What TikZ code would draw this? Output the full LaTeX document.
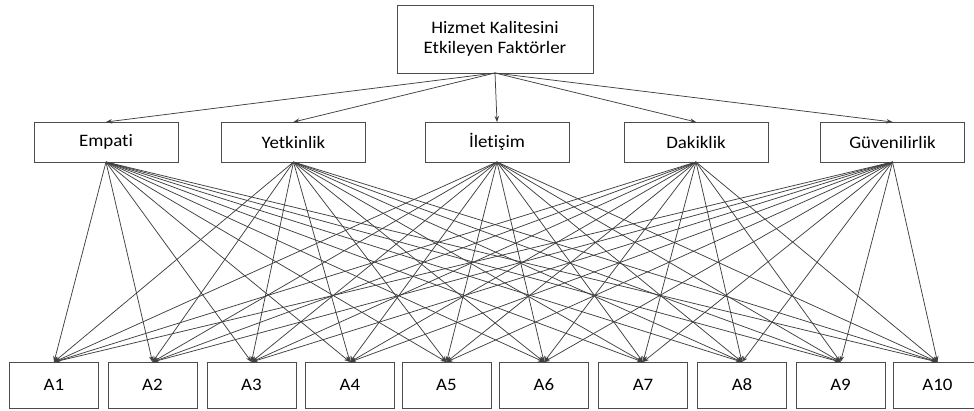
\documentclass[tikz,border=0pt]{standalone}
\usepackage{fontspec}
\setmainfont{Carlito}[FakeStretch=1.08,Ligatures={NoCommon}]
\usetikzlibrary{arrows.meta}
\begin{document}
\begin{tikzpicture}[x=1pt,y=-1pt,
  box/.style={draw=black!70,line width=0.9pt,fill=white,inner sep=0pt,outer sep=0pt,
    align=center,font=\fontsize{17.5}{20}\selectfont,text=black},
  mid/.style={box,minimum width=144pt,minimum height=40pt},
  leaf/.style={box,minimum width=89pt,minimum height=46pt},
  arr/.style={draw=black!75,line width=0.75pt,-{Stealth[length=6pt,width=4.5pt]}}]
\useasboundingbox (0,0) rectangle (974,410);
\node[box,minimum width=196pt,minimum height=68pt] (top) at (495,39) {Hizmet Kalitesini\\Etkileyen Faktörler};
\node[mid] (m1) at (106,142) {Empati};
\node[mid] (m2) at (293.5,142) {Yetkinlik};
\node[mid] (m3) at (497,142) {İletişim};
\node[mid] (m4) at (696,142) {Dakiklik};
\node[mid] (m5) at (892.5,142) {Güvenilirlik};
\node[leaf] (b1) at (54,385) {A1};
\node[leaf] (b2) at (152.5,385) {A2};
\node[leaf] (b3) at (251.5,385) {A3};
\node[leaf] (b4) at (350,385) {A4};
\node[leaf] (b5) at (446.5,385) {A5};
\node[leaf] (b6) at (544,385) {A6};
\node[leaf] (b7) at (643,385) {A7};
\node[leaf] (b8) at (742,385) {A8};
\node[leaf] (b9) at (840.5,385) {A9};
\node[leaf] (b10) at (937.5,385) {A10};
\foreach \m in {1,...,5} {\draw[arr] (top.south) -- (m\m.north);}
\foreach \m in {1,...,5} {
  \foreach \b in {1,...,10} {\draw[arr] (m\m.south) -- (b\b.north);}
}
\end{tikzpicture}
\end{document}
